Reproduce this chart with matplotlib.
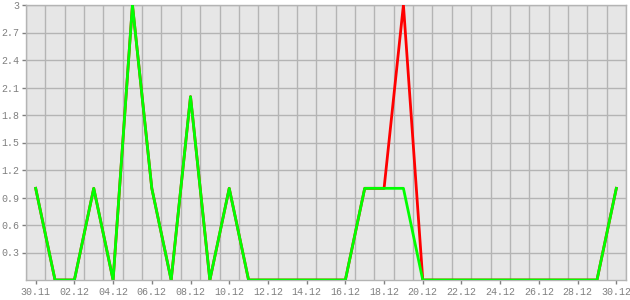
import matplotlib
matplotlib.use("Agg")
import matplotlib.pyplot as plt
import numpy as np

dates = ["30.11", "01.12", "02.12", "03.12", "04.12", "05.12", "06.12", "07.12",
         "08.12", "09.12", "10.12", "11.12", "12.12", "13.12", "14.12", "15.12",
         "16.12", "17.12", "18.12", "19.12", "20.12", "21.12", "22.12", "23.12",
         "24.12", "25.12", "26.12", "27.12", "28.12", "29.12", "30.12"]
green_values = [1, 0, 0, 1, 0, 3, 1, 0, 2, 0, 1, 0, 0, 0, 0, 0,
                0, 1, 1, 1, 0, 0, 0, 0, 0, 0, 0, 0, 0, 0, 1]
red_values = [1, 0, 0, 1, 0, 3, 1, 0, 2, 0, 1, 0, 0, 0, 0, 0,
              0, 1, 1, 3, 0, 0, 0, 0, 0, 0, 0, 0, 0, 0, 1]
y_ticks = [0.3, 0.6, 0.9, 1.2, 1.5, 1.8, 2.1, 2.4, 2.7, 3.0]
y_tick_labels = ["0.3", "0.6", "0.9", "1.2", "1.5", "1.8", "2.1", "2.4", "2.7", "3"]

fig = plt.figure(figsize=(6.3, 3.0), dpi=100)
ax = fig.add_axes([26/630, 1-280/300, 600/630, 275/300])
ax.set_facecolor("#e6e6e6")

x = np.arange(len(dates))
ax.plot(x, red_values, color="#ff0000", lw=2, zorder=3)
ax.plot(x, green_values, color="#00ff00", lw=2, zorder=4)

ax.set_xlim(-0.5, len(dates) - 0.5)
ax.set_ylim(0, 3.0)

ax.set_xticks(x[::2])
ax.set_xticklabels(dates[::2])
ax.set_xticks(np.arange(len(dates) + 1) - 0.5, minor=True)
ax.set_yticks(y_ticks)
ax.set_yticklabels(y_tick_labels)

ax.grid(False)
ax.grid(True, which="minor", axis="x", color="#b4b4b4", lw=1)
ax.grid(True, which="major", axis="y", color="#b4b4b4", lw=1)
ax.set_axisbelow(True)

for s in ax.spines.values():
    s.set_color("#b4b4b4")
    s.set_linewidth(1)

ax.tick_params(axis="both", which="major", colors="#808080", labelcolor="#808080",
               length=3, width=1, labelsize=7.2, pad=2)
ax.tick_params(axis="x", which="minor", length=0)
for lbl in ax.get_xticklabels() + ax.get_yticklabels():
    lbl.set_family("Liberation Mono")

fig.savefig("out.png", dpi=100, facecolor="white")
